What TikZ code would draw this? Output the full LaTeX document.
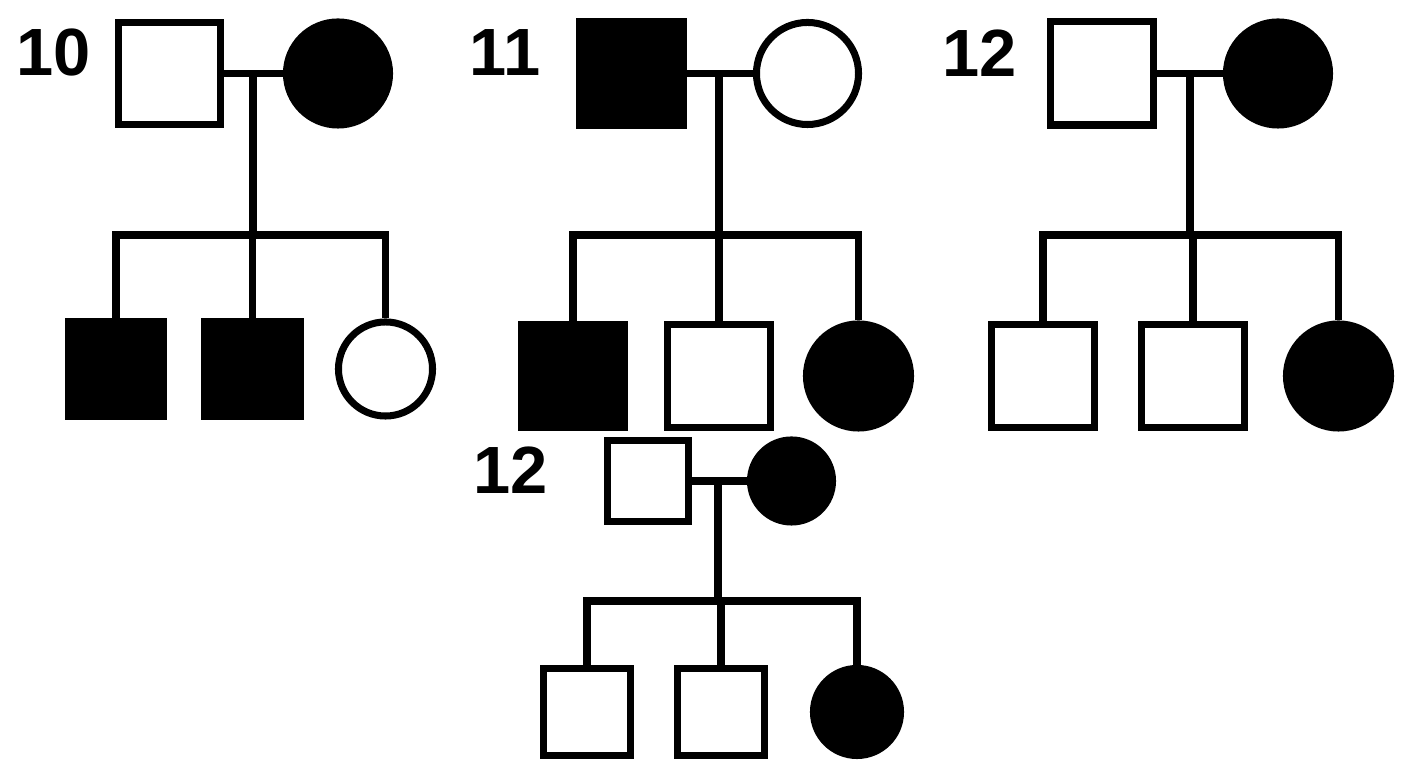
\documentclass[tikz,border=0pt]{standalone}
\usepackage{fontspec}
\setmainfont{Liberation Sans}
\usetikzlibrary{positioning, calc}

\begin{document}
\begin{tikzpicture}[x=0.01cm, y=-0.01cm,
    male/.style={rectangle, draw=black, line width=2pt, inner sep=0pt, minimum size=#1},
    male/.default=1.03cm,
    female/.style={circle, draw=black, line width=2pt, inner sep=0pt, minimum size=#1},
    female/.default=1.03cm,
    affected/.style={fill=black},
    healthy/.style={fill=white},
    famno/.style={font=\fontsize{19}{19}\selectfont\bfseries, inner sep=0pt},
    link/.style={line width=2pt, black}]
    \path[use as bounding box, fill=white] (0,0) rectangle (1408,768);
    \node[famno] (no10) at (54,53) {10};
    \node[male=1.02cm, healthy] (dad10) at (169.5,73.5) {};
    \node[female=1.03cm, affected] (mum10) at (338,73.5) {};
    \node[male=0.95cm, affected] (kid10a) at (116,369) {};
    \node[male=0.95cm, affected] (kid10b) at (252.5,369) {};
    \node[female=0.94cm, healthy] (kid10c) at (385.5,369) {};
    \coordinate (sib10) at (253,235);
    \draw[link] (dad10) -- (mum10);
    \draw[link] (sib10 |- dad10) -- (sib10);
    \draw[link] (kid10a.north) |- (sib10) -| (kid10c.north);
    \draw[link] (kid10b.north |- sib10) -- (kid10b.north);

    \node[famno] (no11) at (505,53) {11};
    \node[male=1.03cm, affected] (dad11) at (631.5,73.5) {};
    \node[female=1.02cm, healthy] (mum11) at (807.5,73.5) {};
    \node[male=1.03cm, affected] (kid11a) at (573,376) {};
    \node[male=1.03cm, healthy] (kid11b) at (719,376) {};
    \node[female=1.04cm, affected] (kid11c) at (858.5,376) {};
    \coordinate (sib11) at (719,235);
    \draw[link] (dad11) -- (mum11);
    \draw[link] (sib11 |- dad11) -- (sib11);
    \draw[link] (kid11a.north) |- (sib11) -| (kid11c.north);
    \draw[link] (kid11b.north |- sib11) -- (kid11b.north);

    \node[famno] (no12) at (980,53) {12};
    \node[male=1.03cm, healthy] (dad12) at (1102,73.5) {};
    \node[female=1.03cm, affected] (mum12) at (1278,73.5) {};
    \node[male=1.03cm, healthy] (kid12a) at (1043,376) {};
    \node[male=1.03cm, healthy] (kid12b) at (1193,376) {};
    \node[female=1.04cm, affected] (kid12c) at (1338.5,376) {};
    \coordinate (sib12) at (1190,235);
    \draw[link] (dad12) -- (mum12);
    \draw[link] (sib12 |- dad12) -- (sib12);
    \draw[link] (kid12a.north) |- (sib12) -| (kid12c.north);
    \draw[link] (kid12b.north |- sib12) -- (kid12b.north);

    \node[famno] (no13) at (511,470) {12};
    \node[male=0.81cm, healthy] (dad13) at (648,481) {};
    \node[female=0.82cm, affected] (mum13) at (791.5,481) {};
    \node[male=0.87cm, healthy] (kid13a) at (587,712) {};
    \node[male=0.87cm, healthy] (kid13b) at (721,712) {};
    \node[female=0.87cm, affected] (kid13c) at (857,712) {};
    \coordinate (sib13) at (718,601);
    \draw[link] (dad13) -- (mum13);
    \draw[link] (sib13 |- dad13) -- (sib13);
    \draw[link] (kid13a.north) |- (sib13) -| (kid13c.north);
    \draw[link] (kid13b.north |- sib13) -- (kid13b.north);
  \end{tikzpicture}
\end{document}
